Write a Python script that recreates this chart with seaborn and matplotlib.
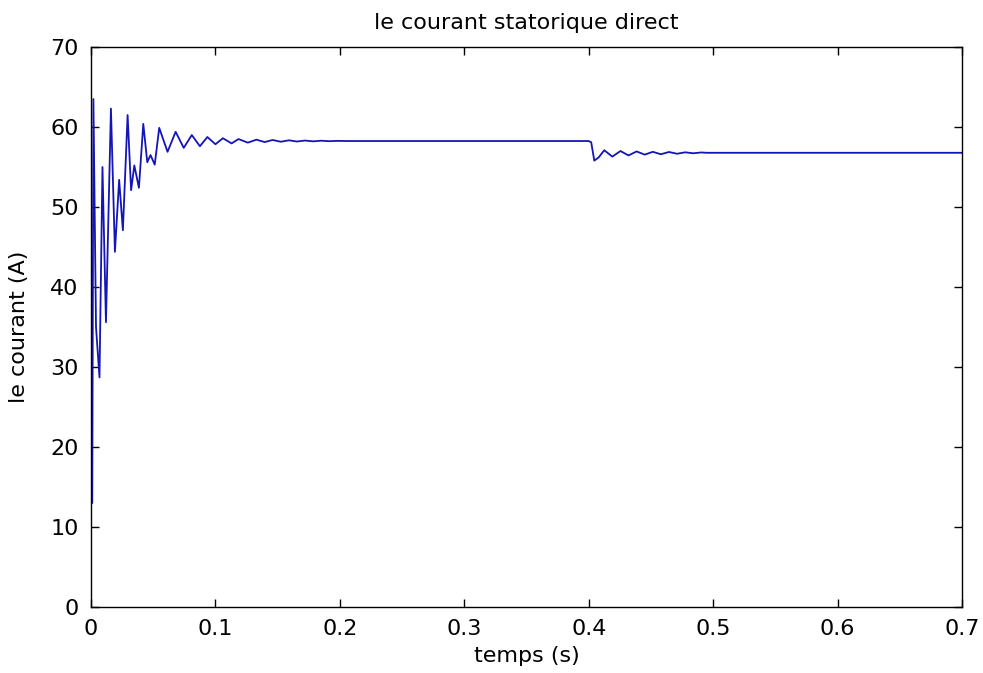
import matplotlib
matplotlib.use("Agg")
import matplotlib.pyplot as plt
import seaborn as sns
import pandas as pd

# ---- data ----
# start-up transient (time s, current A)
t_startup = [0.0000, 0.0010, 0.0019, 0.0040, 0.0068, 0.0092, 0.0120, 0.0160, 0.0192,
             0.0226, 0.0256, 0.0294, 0.0322, 0.0348, 0.0385, 0.0420, 0.0452, 0.0478,
             0.0512, 0.0548, 0.0615, 0.0680, 0.0745, 0.0810, 0.0875, 0.0935, 0.1000,
             0.1060, 0.1130, 0.1185, 0.1260, 0.1330, 0.1395, 0.1460, 0.1525, 0.1590,
             0.1655, 0.1720, 0.1785, 0.1850, 0.1915, 0.1980, 0.2050]
i_startup = [13.0, 13.0, 63.5, 35.0, 28.7, 55.0, 35.6, 62.3, 44.4,
             53.4, 47.1, 61.5, 52.1, 55.2, 52.4, 60.4, 55.6, 56.5,
             55.3, 59.9, 56.9, 59.4, 57.4, 59.0, 57.6, 58.75, 57.85,
             58.6, 57.95, 58.5, 58.05, 58.42, 58.12, 58.38, 58.16, 58.34,
             58.19, 58.31, 58.21, 58.29, 58.23, 58.27, 58.25]

# steady state then load step at 0.4 s
t_step = [0.4000, 0.4020, 0.4045, 0.4080, 0.4125, 0.4190, 0.4255, 0.4320, 0.4385,
          0.4450, 0.4515, 0.4580, 0.4645, 0.4710, 0.4775, 0.4840, 0.4905, 0.4950, 0.7000]
i_step = [58.25, 58.1, 55.8, 56.2, 57.1, 56.3, 57.0, 56.45, 56.95,
          56.55, 56.9, 56.6, 56.88, 56.66, 56.84, 56.72, 56.82, 56.78, 56.78]

title_text = "le courant statorique direct"
x_label = "temps (s)"
y_label = "le courant (A)"
x_ticks = [0, 0.1, 0.2, 0.3, 0.4, 0.5, 0.6, 0.7]
x_ticklabels = ["0", "0.1", "0.2", "0.3", "0.4", "0.5", "0.6", "0.7"]
y_ticks = [0, 10, 20, 30, 40, 50, 60, 70]

df = pd.DataFrame({"t": t_startup + t_step, "i": i_startup + i_step})

sns.set_style("white")
plt.rcParams["font.family"] = ["DejaVu Sans"]
plt.rcParams["text.color"] = "black"
plt.rcParams["axes.labelcolor"] = "black"
plt.rcParams["xtick.direction"] = "in"
plt.rcParams["ytick.direction"] = "in"

fig = plt.figure(figsize=(9.83, 6.73), dpi=100)
ax = fig.add_axes([0.0926, 0.0981, 0.886, 0.832])

sns.lineplot(data=df, x="t", y="i", ax=ax, color="#1414b8", linewidth=1.3,
             estimator=None, sort=False)

ax.set_xlim(0, 0.7)
ax.set_ylim(0, 70)
ax.set_xticks(x_ticks)
ax.set_xticklabels(x_ticklabels)
ax.set_yticks(y_ticks)
ax.tick_params(axis="x", direction="in", length=6, width=1, top=True,
               bottom=True, labelsize=16, colors="black", pad=9)
ax.tick_params(axis="y", direction="in", length=6, width=1, left=True,
               right=True, labelsize=16, colors="black", pad=9)
for s in ax.spines.values():
    s.set_color("black")
    s.set_linewidth(1.0)
ax.set_title(title_text, fontsize=16, pad=13, color="black")
ax.set_xlabel(x_label, fontsize=16, labelpad=5)
ax.set_ylabel(y_label, fontsize=16, labelpad=15)
ax.grid(False)

fig.savefig("out.png", dpi=100, facecolor="white")
